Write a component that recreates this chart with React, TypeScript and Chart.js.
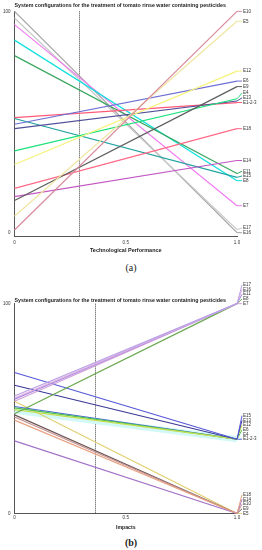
import React, { useEffect, useRef } from 'react';
import { Chart, registerables } from 'chart.js';

Chart.register(...registerables);
Chart.defaults.font.family = '"Liberation Sans", Arial, sans-serif';

const TITLE = 'System configurations for the treatment of tomato rinse water containing pesticides';

// ---- Chart (a): Technological Performance ----
const configsA = ['E10', 'E5', 'E12', 'E6', 'E9', 'E4', 'E13', 'E1-2-3', 'E18', 'E14', 'E11', 'E15', 'E8', 'E7', 'E17', 'E16'];
const startA = [1.2, 7.4, 30.8, 49, 14.5, 37, 47, 52, 20, 16.3, 80, 51.6, 87, 94, 97, 100];
const endA = [100, 95.5, 73, 68.5, 66, 60.5, 59.5, 58.8, 47, 32.6, 26.7, 25, 23.5, 12.2, 1.4, 0];
const colorsA = ['#d98a9c', '#efe6a2', '#f6f27a', '#6f6fd6', '#5e5e5e', '#19e27a', '#4f4f9a', '#ff5a78',
  '#ff6a86', '#c257c2', '#3aa760', '#22a3a0', '#11e0e0', '#f27af2', '#c8c8c8', '#a2a2a2'];
const thresholdA = 0.29;

// ---- Chart (b): Impacts ----
const configsB = ['E17', 'E16', 'E11', 'E8', 'E7', 'E15', 'E13', 'E12', 'E6', 'E4', 'E1-2-3', 'E18', 'E14', 'E10', 'E9', 'E5'];
const startB = [56, 55, 54.5, 47.5, 53.5, 67.2, 61.1, 49.5, 50.3, 49, 51, 44.5, 34.6, 46, 47, 53.5];
const endB = [100, 100, 100, 100, 100, 35.4, 35.4, 35.4, 35.4, 35.4, 35.4, 0, 0, 0, 0, 0];
const colorsB = ['#b9a2e8', '#e2b2e0', '#9a80e2', '#6aa84f', '#d2a2d8', '#5858d8', '#3a3a98', '#c8e050',
  '#52c052', '#d2f8f8', '#4a6ad0', '#e8a282', '#a272c8', '#c29090', '#705858', '#e0d070'];
const highlightB = 'E4';
const thresholdB = 0.36;

const xTickValues = [0, 0.5, 1];
const yTickValues = [0, 100];

const endLabels = {
  id: 'endLabels',
  afterDatasetsDraw(chart: any) {
    const { ctx, scales } = chart;
    const xs = scales.x, ys = scales.y;
    const xr = xs.getPixelForValue(1);
    const items = chart.data.datasets.map((ds: any, i: number) => ({
      i, v: ds.data[1].y, py: ys.getPixelForValue(ds.data[1].y), color: ds.borderColor, label: ds.label,
    }));
    const sorted = items.slice().sort((a: any, b: any) => b.v - a.v);
    let prev = Infinity;
    const gap = 4.7;
    for (let k = sorted.length - 1; k >= 0; k--) {
      const it = sorted[k];
      const ly = Math.min(it.py, prev - gap);
      prev = ly;
      ctx.save();
      ctx.strokeStyle = it.color;
      ctx.lineWidth = 1;
      ctx.beginPath();
      ctx.moveTo(xr, it.py);
      ctx.lineTo(xr + 5, ly);
      ctx.stroke();
      ctx.fillStyle = '#333';
      ctx.font = '4.5px "Liberation Sans", Arial, sans-serif';
      ctx.textBaseline = 'middle';
      ctx.textAlign = 'left';
      ctx.fillText(it.label, xr + 6, ly);
      ctx.restore();
    }
  },
};

const thresholdLine = {
  id: 'thresholdLine',
  beforeDatasetsDraw(chart: any, _args: any, opts: any) {
    const { ctx, chartArea, scales } = chart;
    const px = Math.round(scales.x.getPixelForValue(opts.value)) + 0.5;
    ctx.save();
    ctx.strokeStyle = '#444';
    ctx.lineWidth = 1;
    ctx.setLineDash([1, 1]);
    ctx.beginPath();
    ctx.moveTo(px, chartArea.top);
    ctx.lineTo(px, chartArea.bottom);
    ctx.stroke();
    ctx.restore();
  },
};

type Props = {
  configs: string[]; start: number[]; end: number[]; colors: string[]; threshold: number;
  yMin: number; axisTitle: string; axisTitleSize: number; padTop: number; titlePadBottom: number;
  tickPad: number; axisTitlePadBottom: number; xAxisHeight: number; thick?: string;
};

function ParallelChart(p: Props) {
  const ref = useRef<HTMLCanvasElement>(null);
  useEffect(() => {
    const chart = new Chart(ref.current!, {
      type: 'line',
      data: {
        datasets: p.configs.map((c, i) => ({
          label: c,
          data: [{ x: 0, y: p.start[i] }, { x: 1, y: p.end[i] }],
          borderColor: p.colors[i],
          borderWidth: c === p.thick ? 6 : 1.2,
          pointRadius: 0,
          fill: false,
          tension: 0,
          clip: false as any,
          order: c === p.thick ? 100 : 0,
        })),
      },
      options: {
        responsive: false,
        animation: false,
        events: [],
        layout: { padding: { top: p.padTop, right: 25, left: 0, bottom: 0 } },
        plugins: {
          legend: { display: false },
          tooltip: { enabled: false },
          title: {
            display: true, text: TITLE, align: 'start', fullSize: false, color: '#222',
            font: { size: 5.3, weight: 'bold' }, padding: { top: 0, bottom: p.titlePadBottom },
          },
          thresholdLine: { value: p.threshold },
        } as any,
        scales: {
          x: {
            type: 'linear', min: 0, max: 1,
            grid: { drawOnChartArea: false, drawTicks: false },
            border: { display: true, color: '#555', width: 1 },
            afterBuildTicks: (s: any) => { s.ticks = xTickValues.map((v) => ({ value: v })); },
            afterFit: (s: any) => { s.height = p.xAxisHeight; },
            ticks: {
              padding: p.tickPad, color: '#333', font: { size: 4.5 }, maxRotation: 0,
              callback: (v: any) => (Number(v) === 0 ? '0' : Number(v).toFixed(1)),
            },
            title: {
              display: true, text: p.axisTitle, color: '#222',
              font: { size: p.axisTitleSize, weight: 'bold' }, padding: { top: 0, bottom: p.axisTitlePadBottom },
            },
          },
          y: {
            type: 'linear', min: p.yMin, max: 100,
            grid: { drawOnChartArea: false, drawTicks: false },
            border: { display: true, color: '#555', width: 1 },
            afterBuildTicks: (s: any) => { s.ticks = yTickValues.map((v) => ({ value: v })); },
            afterFit: (s: any) => { s.width = 14.5; },
            ticks: { padding: 4, color: '#333', font: { size: 4.5 }, callback: (v: any) => String(v) },
          },
        },
      },
      plugins: [endLabels, thresholdLine],
    });
    return () => chart.destroy();
  }, []);
  return <canvas ref={ref} width={262} height={258} style={{ width: 262, height: 258, display: 'block' }} />;
}

export default function App() {
  const cap: React.CSSProperties = {
    position: 'absolute', left: 0, width: 262, textAlign: 'center',
    font: '10px "Liberation Serif", "Times New Roman", serif', lineHeight: '12px', color: '#222',
  };
  return (
    <div style={{ position: 'absolute', left: 0, top: 0, width: 262, height: 550, background: '#fff' }}>
      <div style={{ position: 'absolute', left: 0, top: 0 }}>
        <ParallelChart configs={configsA} start={startA} end={endA} colors={colorsA} threshold={thresholdA}
          yMin={-1.5} axisTitle="Technological Performance" axisTitleSize={5.5} padTop={2.5} titlePadBottom={2.5}
          tickPad={3.8} axisTitlePadBottom={4.7} xAxisHeight={22} />
      </div>
      <div style={{ ...cap, top: 262 }}>(a)</div>
      <div style={{ position: 'absolute', left: 0, top: 278 }}>
        <ParallelChart configs={configsB} start={startB} end={endB} colors={colorsB} threshold={thresholdB}
          yMin={0} axisTitle="Impacts" axisTitleSize={5.2} padTop={19.3} titlePadBottom={0}
          tickPad={1.8} axisTitlePadBottom={5.6} xAxisHeight={22.5} thick={highlightB} />
      </div>
      <div style={{ ...cap, top: 537, fontWeight: 'bold' }}>(b)</div>
    </div>
  );
}
